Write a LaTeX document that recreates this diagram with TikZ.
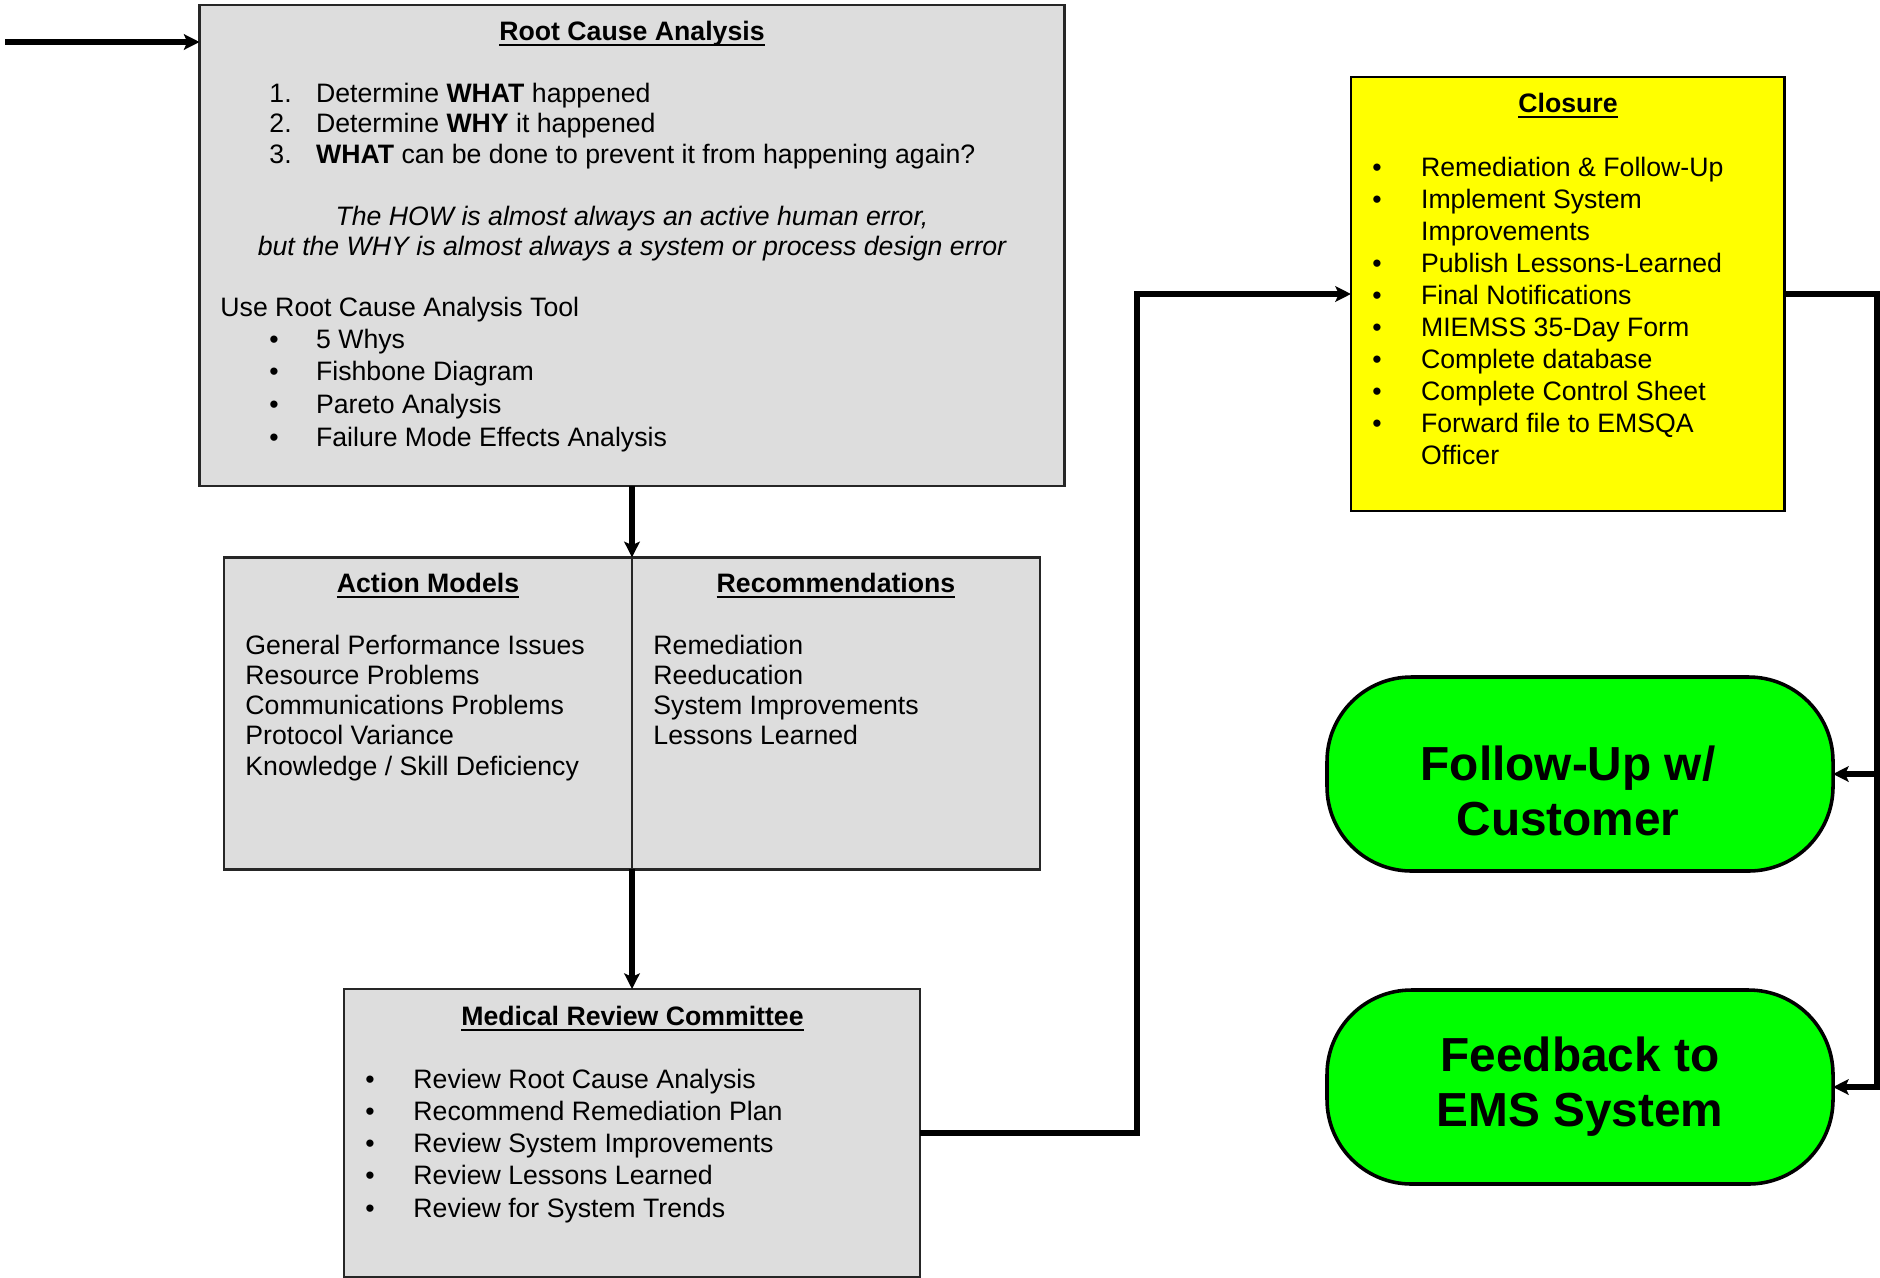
\documentclass[tikz,border=0pt]{standalone}
\usepackage{fontspec}
\setmainfont{Liberation Sans}
\usetikzlibrary{arrows.meta,positioning}
\definecolor{boxgrey}{RGB}{221,221,221}
\definecolor{closureyellow}{RGB}{255,255,0}
\definecolor{pillgreen}{RGB}{0,255,0}
\newsavebox\headbox
\newcommand{\uhead}[1]{\sbox\headbox{\bfseries #1}\rlap{\rule[-2.6pt]{\wd\headbox}{1pt}}\usebox\headbox}

\begin{document}
\begin{tikzpicture}[
    x=0.45pt, y=-0.45pt,
    greybox/.style={rectangle, draw=black!85, line width=1.1pt, fill=boxgrey, inner sep=0pt, outer sep=0pt},
    closurebox/.style={rectangle, draw, line width=1.3pt, fill=closureyellow, inner sep=0pt, outer sep=0pt, minimum width=194.9pt, minimum height=195.3pt},
    pill/.style={rectangle, rounded corners=38pt, draw, line width=1.6pt, fill=pillgreen, outer sep=0pt, minimum width=227.7pt, minimum height=87.3pt},
    pilltext/.style={align=center, inner sep=0pt, font=\bfseries\fontsize{21.5}{24.75}\selectfont},
    heading/.style={anchor=base, inner sep=0pt, font=\fontsize{12}{14}\selectfont},
    body/.style={anchor=base west, inner sep=0pt, font=\fontsize{12}{#1}\selectfont},
    body/.default=13.6,
    arrow/.style={->, >={Stealth[length=7pt, width=7pt, inset=1.5pt]}, line width=2.3pt}
]
\path[use as bounding box, clip] (0,0) rectangle (1880,1277);

% boxes
\node[greybox, minimum width=389.25pt, minimum height=216.5pt] (rca) at (632,245.5) {};
\node[greybox, minimum width=183.6pt, minimum height=140.4pt]  (am) at (428,713.3) {};
\node[greybox, minimum width=183.6pt, minimum height=140.4pt, right=0pt of am] (recs) {};
\node[greybox, minimum width=259pt, minimum height=129.6pt]    (mrc) at (632,1133) {};
\node[closurebox] (cl) at (1567.5,294) {};
\node[pill]       (fu) at (1580,774) {};
\node[pill]       (fb) at (1580,1087) {};

% root cause analysis
\node[heading] (rcahead) at (632,40.7) {\uhead{Root Cause Analysis}};
\node[body=13.6] (steps) at (269,102.7) {\begin{tabular}[t]{@{}p{21pt}@{}l@{}}
  1. & Determine \textbf{WHAT} happened\\
  2. & Determine \textbf{WHY} it happened\\
  3. & \textbf{WHAT} can be done to prevent it from happening again?
\end{tabular}};
\node[heading, font=\itshape\fontsize{12}{13.5}\selectfont] (howwhy) at (632,225) {\begin{tabular}[t]{@{}c@{}}
  The HOW is almost always an active human error,\\
  but the WHY is almost always a system or process design error
\end{tabular}};
\node[body=14] (tooltitle) at (220,316.7) {Use Root Cause Analysis Tool};
\node[body=14.7] (tools) at (269,348.3) {\begin{tabular}[t]{@{}p{21pt}@{}l@{}}
  \textbullet & 5 Whys\\
  \textbullet & Fishbone Diagram\\
  \textbullet & Pareto Analysis\\
  \textbullet & Failure Mode Effects Analysis
\end{tabular}};

% action models / recommendations
\node[heading] (amhead) at (am.center |- 0,592.3) {\uhead{Action Models}};
\node[heading] (recshead) at (recs.center |- 0,592.3) {\uhead{Recommendations}};
\node[body] (amlist) at (245,654.3) {\begin{tabular}[t]{@{}l@{}}
  General Performance Issues\\
  Resource Problems\\
  Communications Problems\\
  Protocol Variance\\
  Knowledge / Skill Deficiency
\end{tabular}};
\node[body] (recslist) at (653,654.3) {\begin{tabular}[t]{@{}l@{}}
  Remediation\\
  Reeducation\\
  System Improvements\\
  Lessons Learned
\end{tabular}};

% medical review committee
\node[heading] (mrchead) at (632.5,1025.7) {\uhead{Medical Review Committee}};
\node[body=14.5] (mrclist) at (365,1088.3) {\begin{tabular}[t]{@{}p{21.6pt}@{}l@{}}
  \textbullet & Review Root Cause Analysis\\
  \textbullet & Recommend Remediation Plan\\
  \textbullet & Review System Improvements\\
  \textbullet & Review Lessons Learned\\
  \textbullet & Review for System Trends
\end{tabular}};

% closure
\node[heading] (clhead) at (1568,112.3) {\uhead{Closure}};
\node[body=14.37] (cllist) at (1372,176.7) {\begin{tabular}[t]{@{}p{21.9pt}@{}l@{}}
  \textbullet & Remediation \& Follow-Up\\
  \textbullet & Implement System\\
              & Improvements\\
  \textbullet & Publish Lessons-Learned\\
  \textbullet & Final Notifications\\
  \textbullet & MIEMSS 35-Day Form\\
  \textbullet & Complete database\\
  \textbullet & Complete Control Sheet\\
  \textbullet & Forward file to EMSQA\\
              & Officer
\end{tabular}};

% follow-up boxes
\node[pilltext] (futext) at (1568,791) {Follow-Up w/\\Customer};
\node[pilltext] (fbtext) at (1580,1086.5) {Feedback to\\EMS System};

% connectors
\coordinate (start) at (5,42);
\coordinate (jog) at (1137,294);
\coordinate (rail) at (1877,1087);
\coordinate (tap) at (1877,774);
\draw[arrow] (start) -- (rca.west |- start);
\draw[arrow] (rca.south -| am.north east) -- (am.north east);
\draw[arrow] (am.south east) -- (am.south east |- mrc.north);
\draw[arrow] (mrc.east) -| (jog) -- (cl.west);
\draw[arrow] (cl.east) -| (rail) -- (fb.east);
\draw[arrow] (tap) -- (fu.east);
\end{tikzpicture}
\end{document}
